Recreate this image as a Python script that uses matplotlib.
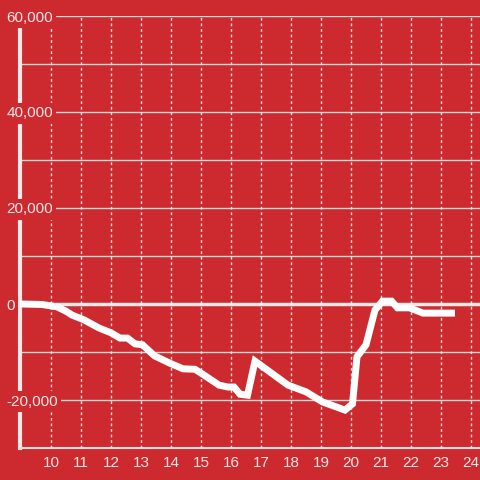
import matplotlib
matplotlib.use("Agg")
import matplotlib.pyplot as plt

# hour of day vs. running total
hours = [9.0, 9.7, 10.2, 10.5, 10.7, 11.1, 11.6, 12.0, 12.3, 12.55, 12.8, 13.05,
         13.45, 13.95, 14.4, 14.8, 15.1, 15.6, 15.9, 16.1, 16.3, 16.55, 16.8,
         17.9, 18.5, 19.05, 19.8, 20.05, 20.2, 20.5, 20.8, 21.05, 21.35, 21.55,
         21.95, 22.4, 23.35]
values = [0, -100, -600, -1500, -2300, -3300, -5000, -6000, -7100, -7100, -8300, -8500,
          -10800, -12300, -13500, -13600, -14800, -16900, -17300, -17300, -18800, -19000, -11900,
          -16900, -18300, -20400, -22100, -20800, -11000, -8500, -1250, 600, 600, -800,
          -800, -1900, -1900]

xticks = list(range(10, 25))
ylabels = [60000, 40000, 20000, 0, -20000]

bg = '#cc2a2f'
fg = '#f5e8e8'
plt.rcParams['font.family'] = ['Liberation Sans', 'DejaVu Sans']

fig = plt.figure(figsize=(4.8, 4.8), dpi=100, facecolor=bg)
ax = fig.add_axes([20/480, 32/480, 460/480, 432/480], facecolor=bg)
ax.set_xlim(8.967, 24.3)
ax.set_ylim(-30000, 60000)

# grid
for y in range(-20000, 60001, 10000):
    ax.axhline(y, color='#d8d8d8', lw=1, zorder=1)
for x in xticks:
    ax.axvline(x, color='#e0e0e0', lw=1, ls=(0, (2, 2)), zorder=1)

for s in ['top', 'right']:
    ax.spines[s].set_visible(False)
ax.spines['left'].set_color(fg)
ax.spines['left'].set_linewidth(3)
ax.spines['bottom'].set_color('#e0e0e0')
ax.spines['bottom'].set_linewidth(1.5)
ax.set_yticks([])
ax.set_xticks(xticks)
ax.set_xticklabels([str(x) for x in xticks], color=fg, fontsize=11)
ax.tick_params(axis='x', length=0, pad=6)

ax.axhline(0, xmin=-0.006, color=fg, lw=2.5, zorder=2, clip_on=False)

for v in ylabels:
    ax.text(-0.03, v, f'{v:,}', transform=ax.get_yaxis_transform(), ha='left',
            va='center_baseline', color=fg, fontsize=11, zorder=3, clip_on=False,
            bbox=dict(facecolor=bg, edgecolor='none', pad=2.5))

ax.plot(hours, values, color='white', lw=5, zorder=5, solid_joinstyle='miter')

fig.savefig('out.png', dpi=100, facecolor=bg)
